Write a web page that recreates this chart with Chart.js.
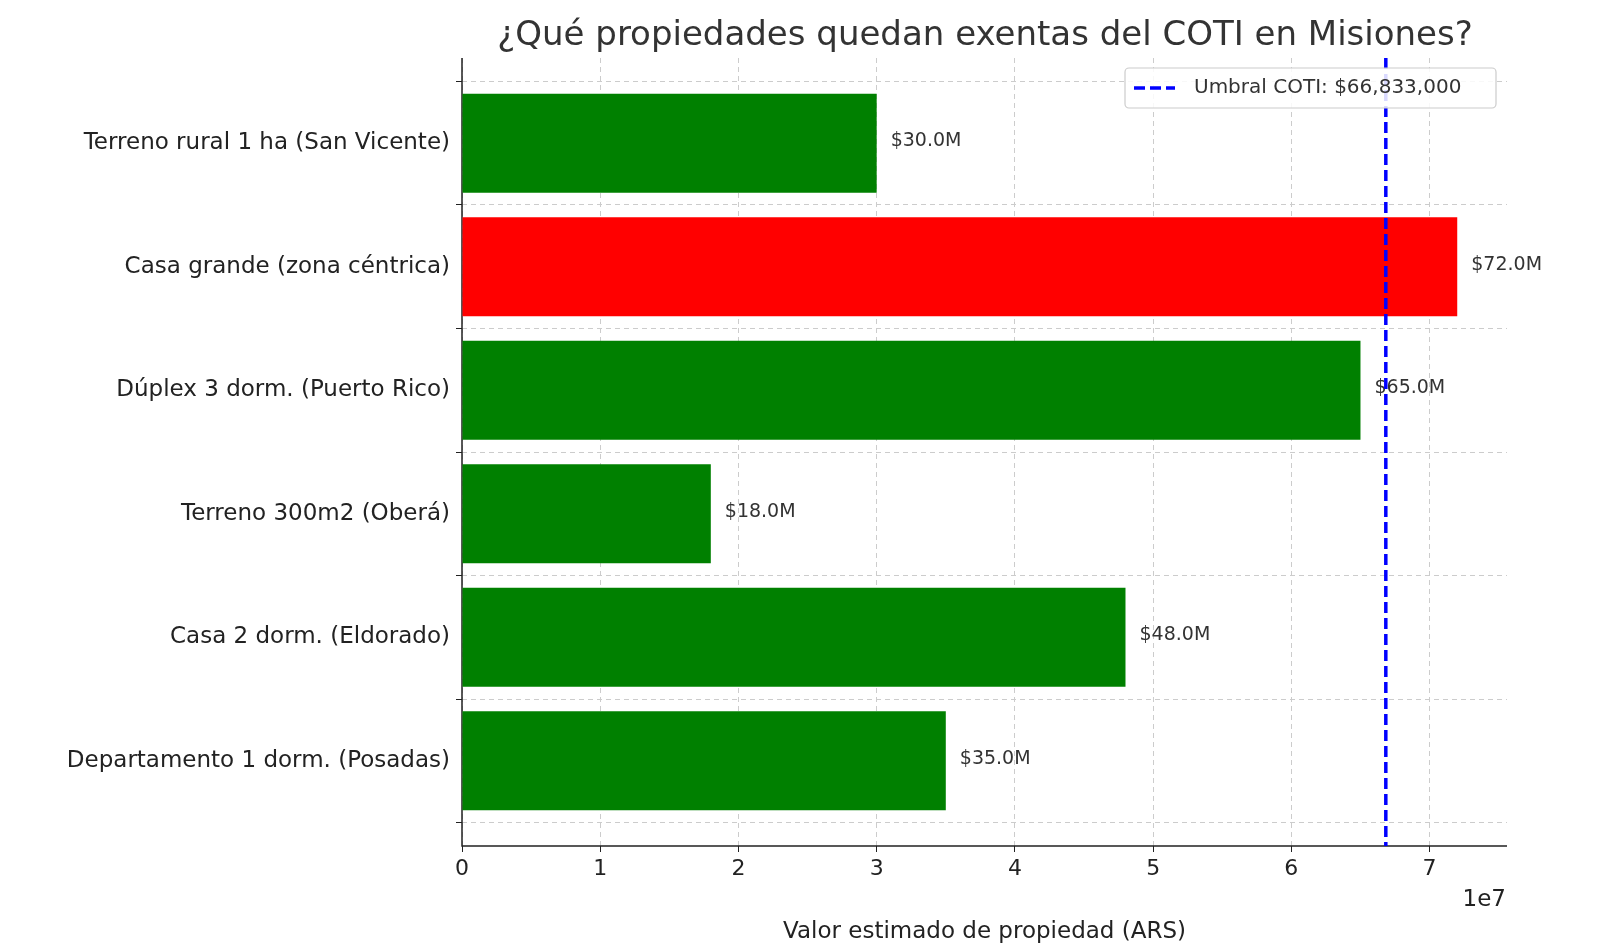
<!DOCTYPE html>
<html><head><meta charset="utf-8">
<script src="https://cdn.jsdelivr.net/npm/chart.js@4"></script>
<style>html,body{margin:0;background:#fff;overflow:hidden}#w{width:1600px;height:950px}</style>
</head><body><div id="w"><canvas id="c"></canvas></div>
<script>
const categories = ["Departamento 1 dorm. (Posadas)","Casa 2 dorm. (Eldorado)","Terreno 300m2 (Oberá)","Dúplex 3 dorm. (Puerto Rico)","Casa grande (zona céntrica)","Terreno rural 1 ha (San Vicente)"];
const values = [35000000,48000000,18000000,65000000,72000000,30000000];
const threshold = 66833000;
const xTicks = [0,1,2,3,4,5,6,7];
const colors = values.map(v => v > threshold ? "#ff0000" : "#008000");
const F = "'DejaVu Sans', sans-serif";

const overlay = {
  id:'overlay',
  beforeDatasetsDraw(chart){
    const {ctx, scales:{x,y}, chartArea:a} = chart;
    ctx.save();
    ctx.strokeStyle="#222"; ctx.lineWidth=1.5;
    ctx.beginPath(); ctx.moveTo(a.left,a.top); ctx.lineTo(a.left,a.bottom); ctx.lineTo(a.right,a.bottom); ctx.stroke();
    ctx.restore();
  },
  afterDatasetsDraw(chart){
    const {ctx, scales:{x,y}, chartArea:a} = chart;
    ctx.save();
    ctx.font = "19px " + F; ctx.fillStyle = "#333"; ctx.textBaseline = "middle"; ctx.textAlign = "left";
    values.forEach((v,i)=>{ ctx.fillText("$" + (v/1e6).toFixed(1) + "M", x.getPixelForValue(v)+14, y.getPixelForValue(i)-2); });
    const tx = x.getPixelForValue(threshold);
    ctx.strokeStyle = "#0000ff"; ctx.lineWidth = 3.5; ctx.setLineDash([11,5]);
    ctx.beginPath(); ctx.moveTo(tx,a.top); ctx.lineTo(tx,a.bottom); ctx.stroke();
    ctx.setLineDash([]);
    ctx.fillStyle="rgba(255,255,255,0.85)"; ctx.strokeStyle="#ccc"; ctx.lineWidth=1.2;
    const lx=1125, ly=68, lw=371, lh=40;
    ctx.beginPath(); ctx.roundRect(lx,ly,lw,lh,4); ctx.fill(); ctx.stroke();
    ctx.strokeStyle="#0000ff"; ctx.lineWidth=3.5; ctx.setLineDash([11,5]);
    ctx.beginPath(); ctx.moveTo(lx+9,ly+20); ctx.lineTo(lx+50,ly+20); ctx.stroke();
    ctx.fillStyle="#333"; ctx.font="20px "+F;
    ctx.fillText("Umbral COTI: $66,833,000", lx+69, ly+20);
    ctx.textAlign="center"; ctx.fillStyle="#333"; ctx.font="34px "+F; ctx.textBaseline="alphabetic";
    ctx.fillText("¿Qué propiedades quedan exentas del COTI en Misiones?", 985, 45);
    ctx.textAlign="right"; ctx.fillStyle="#222"; ctx.font="23px "+F;
    ctx.fillText("1e7", 1506, 906);
    ctx.restore();
  }
};

new Chart(document.getElementById('c'), {
  type:'bar',
  data:{ datasets:[{ data: values.map((v,i)=>({x:v,y:i})), backgroundColor: colors, barPercentage:0.8, categoryPercentage:1 }]},
  options:{
    indexAxis:'y', responsive:true, maintainAspectRatio:false, animation:false,
    layout:{padding:{top:58,right:93,left:0,bottom:0}},
    plugins:{legend:{display:false}, tooltip:{enabled:false}},
    scales:{
      x:{ type:'linear', min:0, max:75600000, offset:false,
        afterBuildTicks(s){ s.ticks = xTicks.map(v=>({value:v*1e7})); },
        afterFit(s){ s.height = 104; },
        ticks:{ callback:v=>String(v/1e7), color:"#222", font:{size:22, family:F}, padding:4 },
        grid:{ color:"#cccccc", lineWidth:1, tickLength:6, tickColor:"#222" },
        border:{ display:false, dash:[5,4] },
        title:{ display:true, text:"Valor estimado de propiedad (ARS)", color:"#222", font:{size:23, family:F}, padding:{top:0} }
      },
      y:{ type:'linear', min:-0.69, max:5.69, offset:false,
        afterBuildTicks(s){ s.ticks = categories.map((c,i)=>({value:i})); },
        afterFit(s){ s.width = 462; },
        ticks:{ callback:v=>categories[v], color:"#222", font:{size:23, family:F}, padding:6 },
        grid:{ color:"#cccccc", tickLength:6, tickColor:"#222" },
        border:{ display:false, dash:[5,4] }
      }
    }
  },
  plugins:[overlay]
});
</script></body></html>
